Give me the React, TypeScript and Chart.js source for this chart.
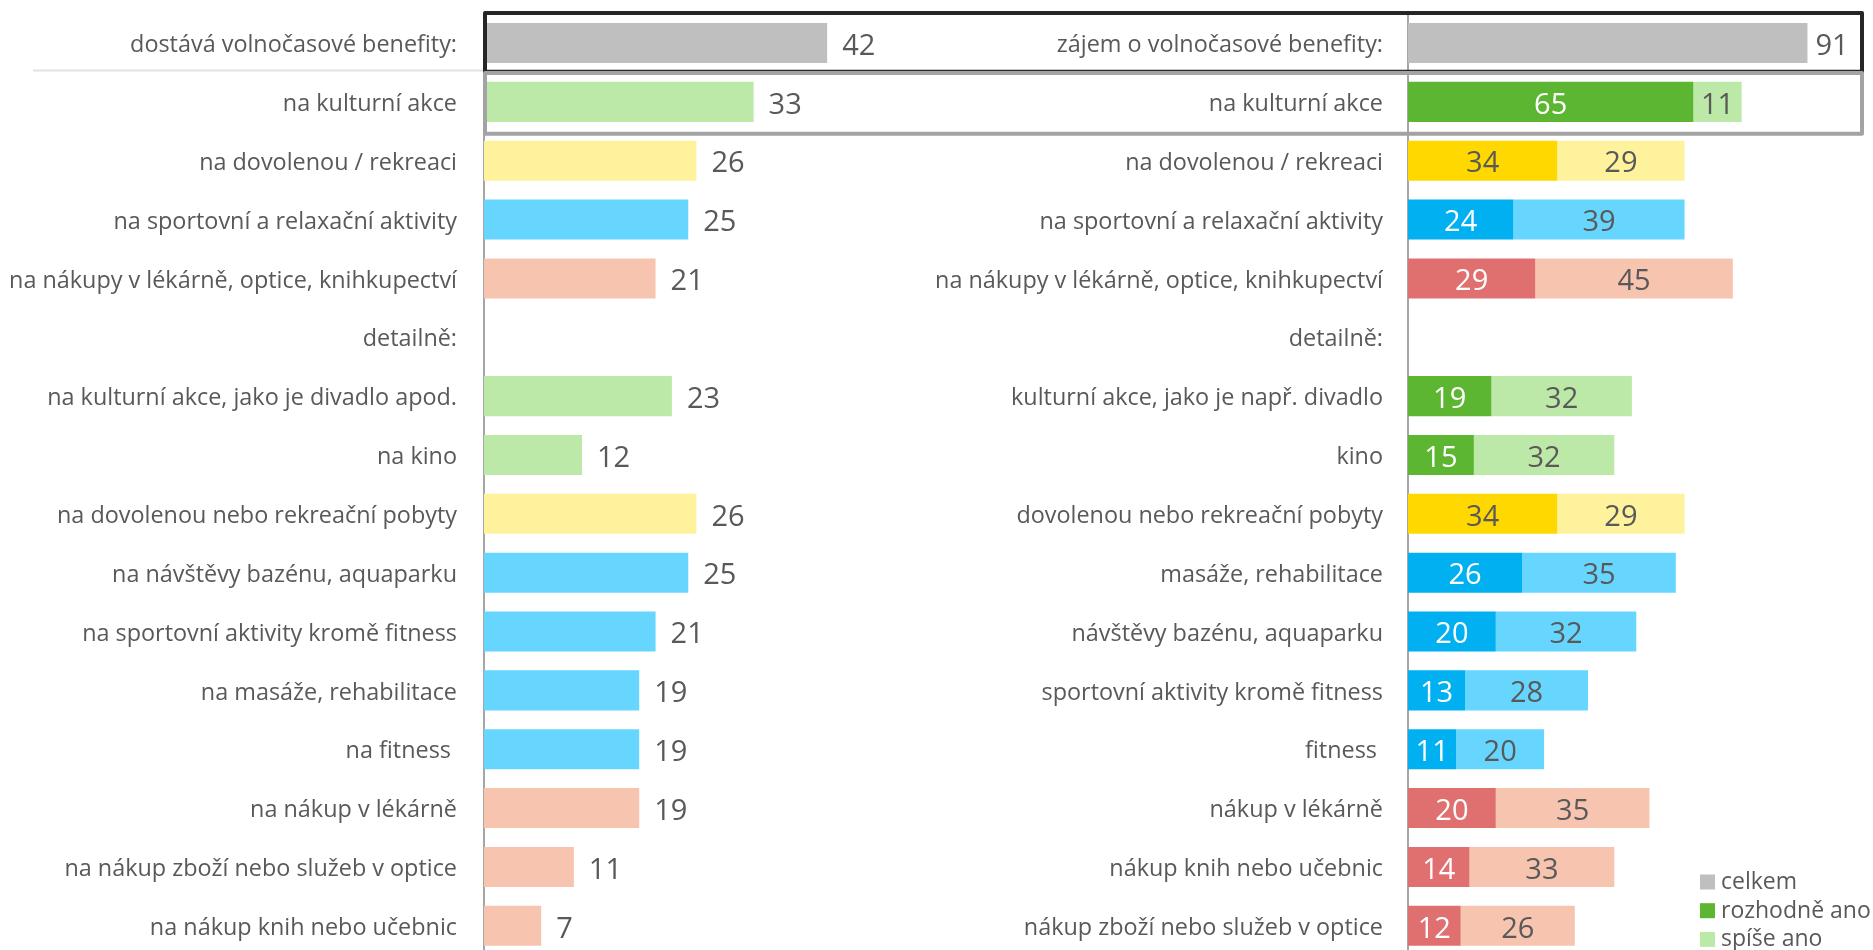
import React, { useEffect, useRef } from "react";
import { Chart, registerables } from "chart.js";

Chart.register(...registerables);

// ---------- data ----------
const leftLabels = [
  "dostává volnočasové benefity:",
  "na kulturní akce",
  "na dovolenou / rekreaci",
  "na sportovní a relaxační aktivity",
  "na nákupy v lékárně, optice, knihkupectví",
  "detailně:",
  "na kulturní akce, jako je divadlo apod.",
  "na kino",
  "na dovolenou nebo rekreační pobyty",
  "na návštěvy bazénu, aquaparku",
  "na sportovní aktivity kromě fitness",
  "na masáže, rehabilitace",
  "na fitness ",
  "na nákup v lékárně",
  "na nákup zboží nebo služeb v optice",
  "na nákup knih nebo učebnic",
];

const rightLabels = [
  "zájem o volnočasové benefity:",
  "na kulturní akce",
  "na dovolenou / rekreaci",
  "na sportovní a relaxační aktivity",
  "na nákupy v lékárně, optice, knihkupectví",
  "detailně:",
  "kulturní akce, jako je např. divadlo",
  "kino",
  "dovolenou nebo rekreační pobyty",
  "masáže, rehabilitace",
  "návštěvy bazénu, aquaparku",
  "sportovní aktivity kromě fitness",
  "fitness ",
  "nákup v lékárně",
  "nákup knih nebo učebnic",
  "nákup zboží nebo služeb v optice",
];

const leftGroups = ["total", "culture", "vacation", "sport", "shop", "none", "culture", "culture", "vacation", "sport", "sport", "sport", "sport", "shop", "shop", "shop"];
const rightGroups = ["total", "culture", "vacation", "sport", "shop", "none", "culture", "culture", "vacation", "sport", "sport", "sport", "sport", "shop", "shop", "shop"];

const receivesBenefit = [42, 33, 26, 25, 21, null, 23, 12, 26, 25, 21, 19, 19, 19, 11, 7];

const interestTotal = [91, null, null, null, null, null, null, null, null, null, null, null, null, null, null, null];
const definitelyYes = [null, 65, 34, 24, 29, null, 19, 15, 34, 26, 20, 13, 11, 20, 14, 12];
const ratherYes = [null, 11, 29, 39, 45, null, 32, 32, 29, 35, 32, 28, 20, 35, 33, 26];

const seriesNames = ["celkem", "rozhodně ano", "spíše ano"];

// ---------- styles ----------
const TEXT = "#595959";
const FONT = "'Open Sans', sans-serif";
const GRAY = "#BFBFBF";
const DARK: Record<string, string> = {
  total: "#5DB632",
  culture: "#5DB632",
  vacation: "#FFD800",
  sport: "#00B0F0",
  shop: "#E07070",
  none: "rgba(0,0,0,0)",
};
const LIGHT: Record<string, string> = {
  total: "#BDE9A8",
  culture: "#BDE9A8",
  vacation: "#FFF29C",
  sport: "#66D6FF",
  shop: "#F7C4B0",
  none: "rgba(0,0,0,0)",
};
const DARK_TEXT: Record<string, string> = {
  total: "#FFFFFF",
  culture: "#FFFFFF",
  vacation: TEXT,
  sport: "#FFFFFF",
  shop: "#FFFFFF",
  none: TEXT,
};

const W = 1873;
const H = 960;
const PAD_TOP = 13.6;
const PAD_BOTTOM = 4.8;
const LABEL_SIZE = 23.4;
const VALUE_SIZE = 29;

const valueLabelPlugin = {
  id: "valueLabels",
  afterDatasetsDraw(chart: any) {
    const ctx = chart.ctx;
    ctx.save();
    ctx.font = `${VALUE_SIZE}px ${FONT}`;
    ctx.textBaseline = "middle";
    chart.data.datasets.forEach((ds: any, di: number) => {
      const meta = chart.getDatasetMeta(di);
      meta.data.forEach((el: any, i: number) => {
        const v = ds.data[i];
        if (v == null) return;
        const p = el.getProps(["x", "y", "base"], true);
        const color = Array.isArray(ds.labelColor) ? ds.labelColor[i] : ds.labelColor;
        ctx.fillStyle = color;
        if (ds.labelMode === "end") {
          ctx.textAlign = "left";
          ctx.fillText(String(v), p.x + ds.labelOffset, p.y + 3.5);
        } else {
          ctx.textAlign = "center";
          ctx.fillText(String(v), (p.x + p.base) / 2, p.y + 3.5);
        }
      });
    });
    ctx.restore();
  },
};

function bandInfo(chart: any) {
  const y = chart.scales.y;
  const c0 = y.getPixelForValue(0);
  const band = y.getPixelForValue(1) - c0;
  return { c0, band };
}

function fixAxis(width: number) {
  return (s: any) => {
    s.width = width;
    s.paddingTop = 0;
    s.paddingBottom = 0;
  };
}

export default function App() {
  const leftRef = useRef<HTMLCanvasElement>(null);
  const rightRef = useRef<HTMLCanvasElement>(null);

  useEffect(() => {
    document.body.style.margin = "0";
    Chart.defaults.font.family = FONT;
    Chart.defaults.color = TEXT;

    const separatorPlugin = {
      id: "separator",
      afterDraw(chart: any) {
        const { c0, band } = bandInfo(chart);
        const ctx = chart.ctx;
        const yy = c0 + band / 2 - 2;
        ctx.save();
        ctx.strokeStyle = "#E2E2E2";
        ctx.lineWidth = 2;
        ctx.beginPath();
        ctx.moveTo(33, yy);
        ctx.lineTo(chart.chartArea.left, yy);
        ctx.stroke();
        ctx.restore();
      },
    };

    const left = new Chart(leftRef.current as HTMLCanvasElement, {
      type: "bar",
      data: {
        labels: leftLabels,
        datasets: [
          {
            label: "dostává",
            data: receivesBenefit,
            backgroundColor: leftGroups.map((g) => (g === "total" ? GRAY : LIGHT[g])),
            barPercentage: 0.68,
            categoryPercentage: 1,
            labelMode: "end",
            labelOffset: 15,
            labelColor: TEXT,
          } as any,
        ],
      },
      options: {
        indexAxis: "y",
        responsive: false,
        animation: false,
        events: [],
        layout: { padding: { left: 0, right: W - (484 + 408.5), top: PAD_TOP, bottom: PAD_BOTTOM } },
        plugins: { legend: { display: false }, tooltip: { enabled: false } },
        scales: {
          x: { type: "linear", min: 0, max: 50, display: false },
          y: {
            type: "category",
            grid: { display: false, drawTicks: false },
            border: { display: true, color: "#A6A6A6", width: 2 },
            ticks: {
              autoSkip: false,
              padding: 27,
              labelOffset: 2.5,
              color: TEXT,
              font: { size: LABEL_SIZE, family: FONT },
            },
            afterFit: fixAxis(484),
          },
        },
      } as any,
      plugins: [valueLabelPlugin, separatorPlugin],
    });

    const boxesAndLegendPlugin = {
      id: "boxesLegend",
      afterDraw(chart: any) {
        const ctx = chart.ctx;
        const { c0, band } = bandInfo(chart);
        const x0 = left.chartArea.left + 1;
        const x1 = chart.chartArea.right + 15;
        ctx.save();
        ctx.lineJoin = "round";
        ctx.lineWidth = 4;
        ctx.strokeStyle = "#262626";
        ctx.strokeRect(x0, c0 - band / 2 - 0.6, x1 - x0, band);
        ctx.strokeStyle = "#A3A3A3";
        ctx.strokeRect(x0, c0 + band / 2 + 0.5, x1 - x0, band + 2);
        ctx.restore();

        // legend
        ctx.save();
        ctx.font = `23px ${FONT}`;
        ctx.textBaseline = "middle";
        ctx.textAlign = "left";
        chart.data.datasets.forEach((ds: any, i: number) => {
          const bg = Array.isArray(ds.backgroundColor) ? ds.backgroundColor[0] : ds.backgroundColor;
          const yy = 881.5 + i * 28.7;
          ctx.fillStyle = bg;
          ctx.fillRect(1700, yy - 7, 15, 15);
          ctx.fillStyle = TEXT;
          ctx.fillText(ds.label, 1721, yy + 1);
        });
        ctx.restore();
      },
    };

    const right = new Chart(rightRef.current as HTMLCanvasElement, {
      type: "bar",
      data: {
        labels: rightLabels,
        datasets: [
          {
            label: seriesNames[0],
            data: interestTotal,
            backgroundColor: GRAY,
            barPercentage: 0.68,
            categoryPercentage: 1,
            labelMode: "end",
            labelOffset: 8,
            labelColor: TEXT,
          } as any,
          {
            label: seriesNames[1],
            data: definitelyYes,
            backgroundColor: rightGroups.map((g) => DARK[g]),
            barPercentage: 0.68,
            categoryPercentage: 1,
            labelMode: "center",
            labelColor: rightGroups.map((g) => DARK_TEXT[g]),
          } as any,
          {
            label: seriesNames[2],
            data: ratherYes,
            backgroundColor: rightGroups.map((g) => LIGHT[g]),
            barPercentage: 0.68,
            categoryPercentage: 1,
            labelMode: "center",
            labelColor: TEXT,
          } as any,
        ],
      },
      options: {
        indexAxis: "y",
        responsive: false,
        animation: false,
        events: [],
        layout: { padding: { left: 900, right: W - (1408 + 439), top: PAD_TOP, bottom: PAD_BOTTOM } },
        plugins: { legend: { display: false }, tooltip: { enabled: false } },
        scales: {
          x: { type: "linear", min: 0, max: 100, display: false, stacked: true },
          y: {
            type: "category",
            stacked: true,
            grid: { display: false, drawTicks: false },
            border: { display: true, color: "#A6A6A6", width: 2 },
            ticks: {
              autoSkip: false,
              padding: 25,
              labelOffset: 2.5,
              color: TEXT,
              font: { size: LABEL_SIZE, family: FONT },
            },
            afterFit: fixAxis(508),
          },
        },
      } as any,
      plugins: [valueLabelPlugin, boxesAndLegendPlugin],
    });

    return () => {
      right.destroy();
      left.destroy();
    };
  }, []);

  return (
    <div
      style={{
        position: "fixed",
        left: 0,
        top: 0,
        width: W,
        height: 950,
        overflow: "hidden",
        background: "#ffffff",
      }}
    >
      <canvas ref={leftRef} width={W} height={H} style={{ position: "absolute", left: 0, top: 0 }} />
      <canvas ref={rightRef} width={W} height={H} style={{ position: "absolute", left: 0, top: 0 }} />
    </div>
  );
}
